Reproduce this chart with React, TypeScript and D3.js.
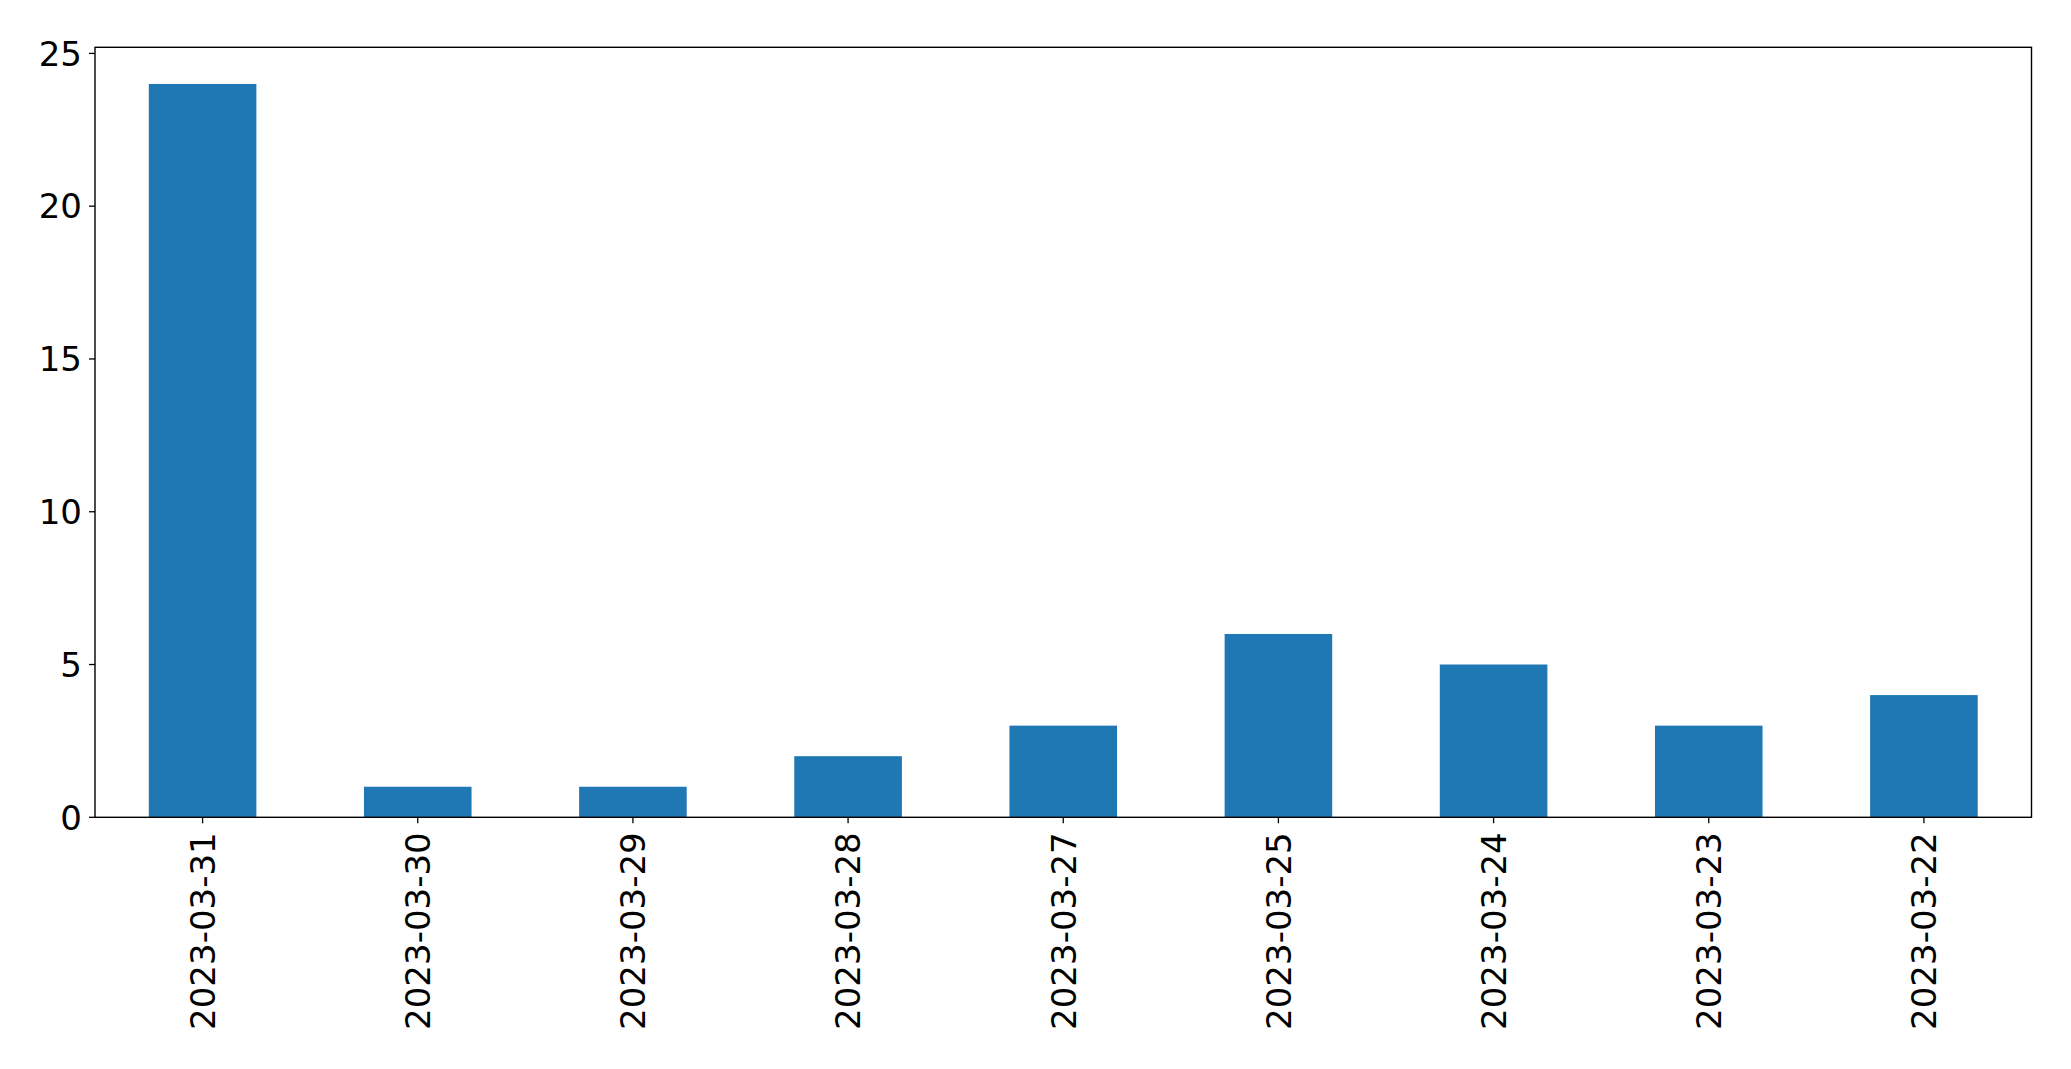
import React from "react";
import * as d3 from "d3";

const categories = ["2023-03-31", "2023-03-30", "2023-03-29", "2023-03-28", "2023-03-27", "2023-03-25", "2023-03-24", "2023-03-23", "2023-03-22"];
const values = [24, 1, 1, 2, 3, 6, 5, 3, 4];
const yTicks = [0, 5, 10, 15, 20, 25];

const W = 2071;
const H = 1069;
const M = { left: 95, right: 2031.5, top: 47.3, bottom: 817.3 };
const FONT = "'DejaVu Sans', sans-serif";
const FS = 34;

export default function App() {
  const x = d3.scaleBand<string>().domain(categories).range([M.left, M.right]).paddingInner(0.5).paddingOuter(0.25);
  const y = d3.scaleLinear().domain([0, 25.2]).range([M.bottom, M.top]);
  const bw = x.bandwidth();
  return (
    <div style={{ position: "absolute", left: 0, top: 0 }}>
      <svg width={W} height={H} style={{ display: "block", background: "#fff" }}>
        {categories.map((c, i) => (
          <rect key={c} x={x(c)} y={y(values[i])} width={bw} height={y(0) - y(values[i])} fill="#1f77b4" />
        ))}
        <rect x={M.left} y={M.top} width={M.right - M.left} height={M.bottom - M.top} fill="none" stroke="#000" strokeWidth={1.4} />
        {yTicks.map((t) => (
          <g key={t}>
            <line x1={M.left - 6} x2={M.left} y1={y(t)} y2={y(t)} stroke="#000" strokeWidth={1.3} />
            <text x={M.left - 13} y={y(t)} dy="0.36em" textAnchor="end" fontFamily={FONT} fontSize={FS} fill="#000">{t}</text>
          </g>
        ))}
        {categories.map((c) => {
          const cx = (x(c) as number) + bw / 2;
          return (
            <g key={c}>
              <line x1={cx} x2={cx} y1={M.bottom} y2={M.bottom + 6} stroke="#000" strokeWidth={1.3} />
              <text transform={`translate(${cx},${M.bottom + 15}) rotate(-90)`} dy="0.36em" textAnchor="end" fontFamily={FONT} fontSize={FS} fill="#000">{c}</text>
            </g>
          );
        })}
      </svg>
    </div>
  );
}
